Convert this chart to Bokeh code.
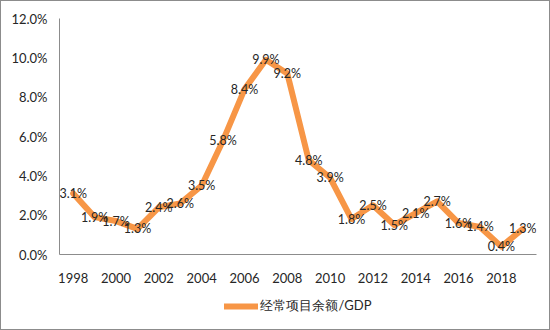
from bokeh.plotting import figure
from bokeh.layouts import column
from bokeh.models import ColumnDataSource, FixedTicker, PrintfTickFormatter, Legend, LegendItem, Range1d
from bokeh.core.properties import value
from bokeh.embed import file_html
from bokeh.resources import INLINE

years = list(range(1998, 2020))
ratio = [3.1, 1.9, 1.7, 1.3, 2.4, 2.6, 3.5, 5.8, 8.4, 9.9, 9.2, 4.8, 3.9, 1.8, 2.5, 1.5, 2.1, 2.7, 1.6, 1.4, 0.4, 1.3]
labels = [f"{v:.1f}%" for v in ratio]
series_name = "经常项目余额/GDP"
x_ticks = list(range(1998, 2019, 2))
y_ticks = [0, 2, 4, 6, 8, 10, 12]

FONT = "Lato"
COLOR = "#F79646"
src = ColumnDataSource(dict(x=years, y=ratio, t=labels))

# frame slightly wider than the category span so the end labels are not clipped
step = 22 / 471.0
p = figure(width=548, height=290, output_backend="svg", toolbar_location=None,
           x_range=Range1d(1997.5 - 3 * step, 2019.5 + 3 * step), y_range=Range1d(0, 12),
           min_border_left=58, min_border_right=13, min_border_top=17, min_border_bottom=37)
p.outline_line_color = None
p.xgrid.visible = False
p.ygrid.visible = False

line = p.line("x", "y", source=src, line_color=COLOR, line_width=6, line_join="round", line_cap="round")
p.text("x", "y", text="t", source=src, text_align="center", text_baseline="middle",
       text_font=value(FONT), text_font_size="12.5px", text_color="#262626")

for ax in (p.xaxis[0], p.yaxis[0]):
    ax.axis_line_color = "#8c8c8c"
    ax.major_tick_line_color = None
    ax.minor_tick_line_color = None
    ax.major_label_text_font = FONT
    ax.major_label_text_font_size = "13px"
    ax.major_label_text_color = "#262626"

p.xaxis.ticker = FixedTicker(ticks=x_ticks)
p.xaxis.major_label_standoff = 12
p.yaxis.ticker = FixedTicker(ticks=y_ticks)
p.yaxis.formatter = PrintfTickFormatter(format="%.1f%%")
p.yaxis.major_label_standoff = 6

# legend strip below the chart (its key line reuses the series, kept out of view)
p2 = figure(width=548, height=38, output_backend="svg", toolbar_location=None,
            x_range=Range1d(0, 1), y_range=Range1d(0, 1),
            min_border_left=0, min_border_right=0, min_border_top=0, min_border_bottom=8)
p2.axis.visible = False
p2.grid.visible = False
p2.outline_line_color = None
key = p2.line("x", "y", source=src, line_color=COLOR, line_width=6, line_cap="round")
legend = Legend(items=[LegendItem(label=series_name, renderers=[key])],
                orientation="horizontal", location="center",
                label_text_font=FONT, label_text_font_size="13px", label_text_color="#262626",
                glyph_width=34, glyph_height=14, border_line_color=None,
                background_fill_alpha=0, margin=0, padding=2, label_standoff=3)
p2.add_layout(legend)

layout = column(p, p2, spacing=0)
layout.styles = {"border": "1px solid #8c8c8c"}
open("out.html", "w").write(file_html(layout, INLINE))
